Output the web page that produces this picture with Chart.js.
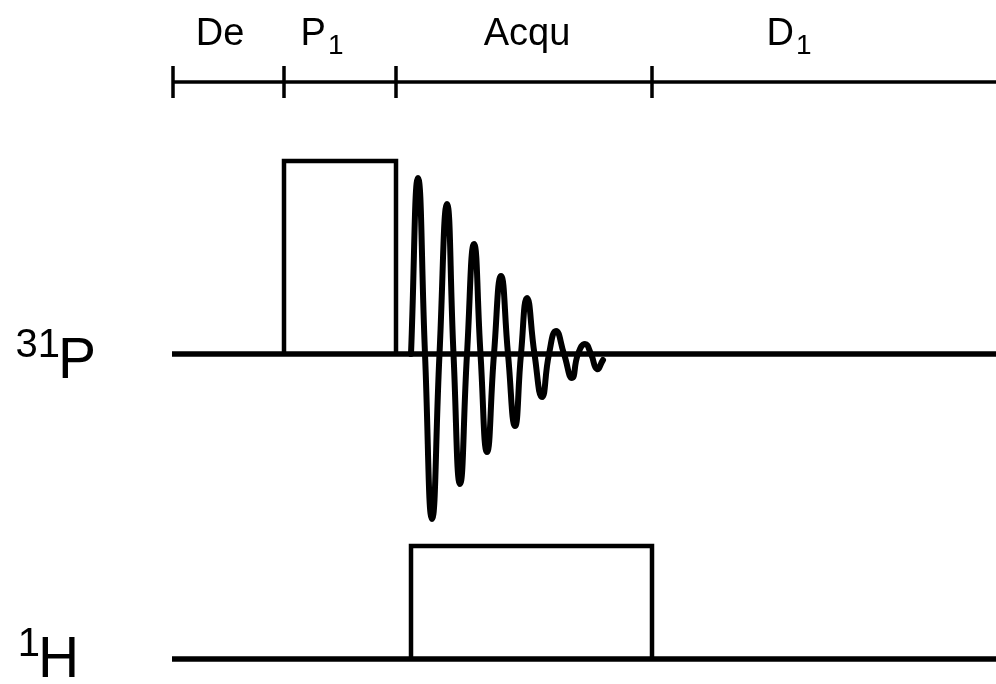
<!DOCTYPE html>
<html lang="en">
<head>
<meta charset="UTF-8">
<title>31P pulse sequence</title>
<script src="https://cdn.jsdelivr.net/npm/chart.js"></script>
<style>
  html, body { margin: 0; padding: 0; background: #fff; }
  #wrap { width: 996px; height: 684px; }
</style>
</head>
<body>
<div id="wrap"><canvas id="seq" width="996" height="684"></canvas></div>
<script>
// time axis: segment boundaries and labels
const tickTimes = [173, 284, 396, 652];
const axisEnd = 996;
const segNames = ['De', 'P', 'Acqu', 'D'];
const segSubs = ['', '1', '', '1'];
const segLabelAt = [220, 322, 527, 789];

// channels
const channelNames = ['31P', '1H'];
const channelLevels = [354, 659];
const channelStart = 172;

// 31P excitation pulse P1 and 1H decoupling block
const pulseTimes = [284, 396];
const pulseTop = 161;
const decTimes = [411, 652];
const decTop = 546;

// free induction decay (crossings and extrema)
const fidT = [411, 418, 425, 432, 439.5, 447, 453.5, 460, 467, 474, 480.5, 487, 494, 501, 508, 515,
              521, 527, 534.5, 542, 549, 556, 564, 572, 578, 585, 591, 597, 603];
const fidV = [354, 178, 354, 519, 354, 204, 354, 484, 354, 244, 354, 452, 354, 276, 354, 426,
              354, 298, 354, 397, 354, 331, 354, 378, 354, 344, 354, 369, 360];

const black = '#000';
const seg = (pts, w) => ({
  data: pts, showLine: true, borderColor: black, borderWidth: w,
  pointRadius: 0, fill: false, borderCapStyle: 'butt', borderJoinStyle: 'miter'
});

const datasets = [];
// time axis line and ticks
datasets.push(seg([{x: tickTimes[0], y: 82}, {x: axisEnd, y: 82}], 3.5));
tickTimes.forEach(t => datasets.push(seg([{x: t, y: 66}, {x: t, y: 98}], 3.5)));
// channel baselines
channelLevels.forEach(lv => datasets.push(seg([{x: channelStart, y: lv}, {x: axisEnd, y: lv}], 5.5)));
// P1 pulse
datasets.push(seg([
  {x: pulseTimes[0], y: channelLevels[0]}, {x: pulseTimes[0], y: pulseTop},
  {x: pulseTimes[1], y: pulseTop}, {x: pulseTimes[1], y: channelLevels[0]}
], 4.5));
// decoupling
datasets.push(seg([
  {x: decTimes[0], y: channelLevels[1]}, {x: decTimes[0], y: decTop},
  {x: decTimes[1], y: decTop}, {x: decTimes[1], y: channelLevels[1]}
], 4.5));
// FID, smoothed through the read points
const fid = seg(fidT.map((t, i) => ({x: t, y: fidV[i]})), 6);
fid.tension = 0.52;
fid.borderJoinStyle = 'round';
fid.borderCapStyle = 'round';
datasets.push(fid);

const font = '"Liberation Sans", Arial, sans-serif';
const labels = {
  id: 'labels',
  afterDraw(chart) {
    const {ctx, scales: {x, y}} = chart;
    ctx.save();
    ctx.fillStyle = black;
    ctx.textBaseline = 'alphabetic';
    // segment labels
    segNames.forEach((name, i) => {
      ctx.font = '38px ' + font;
      const w = ctx.measureText(name).width;
      ctx.font = '28px ' + font;
      const ws = segSubs[i] ? ctx.measureText(segSubs[i]).width + 2 : 0;
      const left = x.getPixelForValue(segLabelAt[i]) - (w + ws) / 2;
      const base = y.getPixelForValue(45);
      ctx.font = '38px ' + font;
      ctx.textAlign = 'left';
      ctx.fillText(name, left, base);
      if (segSubs[i]) {
        ctx.font = '28px ' + font;
        ctx.fillText(segSubs[i], left + w + 2, base + 9);
      }
    });
    // channel labels: superscript mass number + element
    const lab = [{sup: '31', el: 'P', base: 378, elX: 58}, {sup: '1', el: 'H', base: 677, elX: 38}];
    lab.forEach(l => {
      const bx = x.getPixelForValue(l.elX);
      const by = y.getPixelForValue(l.base);
      ctx.textAlign = 'left';
      ctx.font = '57px ' + font;
      ctx.fillText(l.el, bx, by);
      ctx.textAlign = 'right';
      ctx.font = '40px ' + font;
      ctx.fillText(l.sup, bx + 2, by - 21);
    });
    ctx.restore();
  }
};

new Chart(document.getElementById('seq'), {
  type: 'scatter',
  data: { datasets },
  options: {
    responsive: false,
    devicePixelRatio: 1,
    animation: false,
    layout: { padding: 0 },
    scales: {
      x: { type: 'linear', min: 0, max: 996, display: false },
      y: { type: 'linear', min: 0, max: 684, reverse: true, display: false }
    },
    plugins: { legend: { display: false }, tooltip: { enabled: false } }
  },
  plugins: [labels]
});
</script>
</body>
</html>
